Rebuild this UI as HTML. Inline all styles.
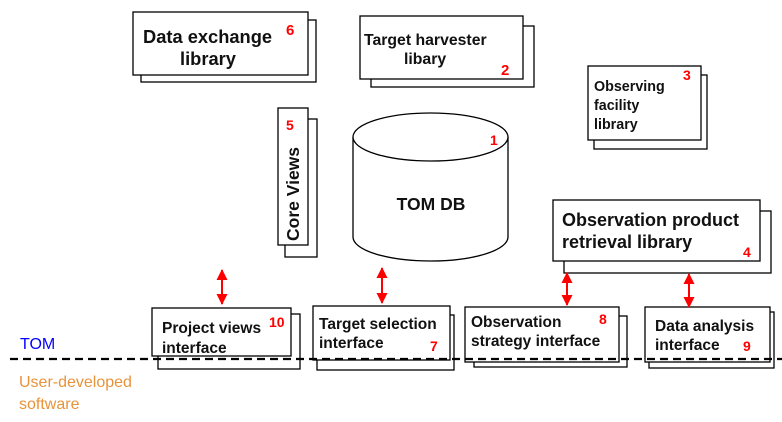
<!DOCTYPE html>
<html><head><meta charset="utf-8"><style>
html,body{margin:0;padding:0;background:#fff;}
svg{display:block;font-family:"Liberation Sans",Arial,sans-serif;}
.b{fill:#fff;stroke:#000;stroke-width:1.3;}
.t{font-weight:bold;fill:#111;}
.n{font-weight:bold;fill:#f00;}
</style></head><body>
<svg width="782" height="422" viewBox="0 0 782 422" xmlns="http://www.w3.org/2000/svg">
<defs>
<marker id="ah" markerWidth="11" markerHeight="11" refX="10" refY="5.5" orient="auto-start-reverse" markerUnits="userSpaceOnUse">
<path d="M0,0 L11,5.5 L0,11 z" fill="#f00"/></marker>
</defs>
<!-- Data exchange -->
<rect class="b" x="141" y="20" width="175" height="62"/>
<rect class="b" x="133" y="12" width="175" height="63"/>
<text class="t" x="143" y="43" font-size="18.3">Data exchange</text>
<text class="t" x="180" y="65" font-size="18.3">library</text>
<text class="n" x="286" y="35" font-size="15">6</text>
<!-- Target harvester -->
<rect class="b" x="371" y="26" width="163" height="61"/>
<rect class="b" x="360" y="16" width="163" height="63"/>
<text class="t" x="364" y="45" font-size="15.8">Target harvester</text>
<text class="t" x="404" y="64" font-size="15.8">libary</text>
<text class="n" x="501" y="75" font-size="15">2</text>
<!-- Observing facility -->
<rect class="b" x="594" y="75" width="113" height="74"/>
<rect class="b" x="588" y="66" width="113" height="74"/>
<text class="t" x="594" y="91" font-size="14.3">Observing</text>
<text class="t" x="594" y="110" font-size="14.3">facility</text>
<text class="t" x="594" y="129" font-size="14.3">library</text>
<text class="n" x="683" y="80" font-size="14">3</text>
<!-- Core Views -->
<rect class="b" x="285" y="119" width="32" height="138"/>
<rect class="b" x="278" y="108" width="30" height="137"/>
<text class="t" font-size="17.5" transform="translate(299,241) rotate(-90)">Core Views</text>
<text class="n" x="286" y="130" font-size="14">5</text>
<!-- Cylinder -->
<path class="b" d="M353,137 L353,237 A77.5,24 0 0 0 508,237 L508,137"/>
<ellipse class="b" cx="430.5" cy="137" rx="77.5" ry="24"/>
<text class="t" x="431" y="210" font-size="17.5" text-anchor="middle">TOM DB</text>
<text class="n" x="490" y="145" font-size="14">1</text>
<!-- Obs product -->
<rect class="b" x="564" y="211" width="207" height="62"/>
<rect class="b" x="553" y="200" width="207" height="61"/>
<text class="t" x="562" y="226" font-size="18">Observation product</text>
<text class="t" x="562" y="248" font-size="18">retrieval library</text>
<text class="n" x="743" y="257" font-size="14">4</text>
<!-- Bottom boxes -->
<rect class="b" x="158" y="314" width="142" height="55"/>
<rect class="b" x="152" y="308" width="139" height="48"/>
<text class="t" x="162" y="333" font-size="15.5">Project views</text>
<text class="t" x="162" y="353" font-size="15.5">interface</text>
<text class="n" x="269" y="327" font-size="14">10</text>

<rect class="b" x="317" y="315" width="137" height="55"/>
<rect class="b" x="313" y="306" width="137" height="54"/>
<text class="t" x="319" y="329" font-size="15.5">Target selection</text>
<text class="t" x="319" y="348" font-size="15.5">interface</text>
<text class="n" x="430" y="351" font-size="14">7</text>

<rect class="b" x="474" y="316" width="153" height="51"/>
<rect class="b" x="465" y="307" width="154" height="55"/>
<text class="t" x="471" y="327" font-size="15.5">Observation</text>
<text class="t" x="471" y="346" font-size="15.5">strategy interface</text>
<text class="n" x="599" y="324" font-size="14">8</text>

<rect class="b" x="649" y="312" width="125" height="56"/>
<rect class="b" x="645" y="307" width="125" height="55"/>
<text class="t" x="655" y="331" font-size="15.5">Data analysis</text>
<text class="t" x="655" y="350" font-size="15.5">interface</text>
<text class="n" x="743" y="351" font-size="14">9</text>
<!-- Dashed line -->
<line x1="10" y1="359" x2="782" y2="359" stroke="#000" stroke-width="2.2" stroke-dasharray="8,5"/>
<text x="20" y="349" font-size="16" fill="#0000ff">TOM</text>
<text x="19" y="387" font-size="16" fill="#e8933a">User-developed</text>
<text x="19" y="409" font-size="16" fill="#e8933a">software</text>
<!-- Arrows -->
<g stroke="#f00" stroke-width="2">
<line x1="222" y1="270" x2="222" y2="304" marker-start="url(#ah)" marker-end="url(#ah)"/>
<line x1="382" y1="268" x2="382" y2="303" marker-start="url(#ah)" marker-end="url(#ah)"/>
<line x1="567" y1="273" x2="567" y2="305" marker-start="url(#ah)" marker-end="url(#ah)"/>
<line x1="689" y1="274" x2="689" y2="307" marker-start="url(#ah)" marker-end="url(#ah)"/>
</g>
</svg>
</body></html>
